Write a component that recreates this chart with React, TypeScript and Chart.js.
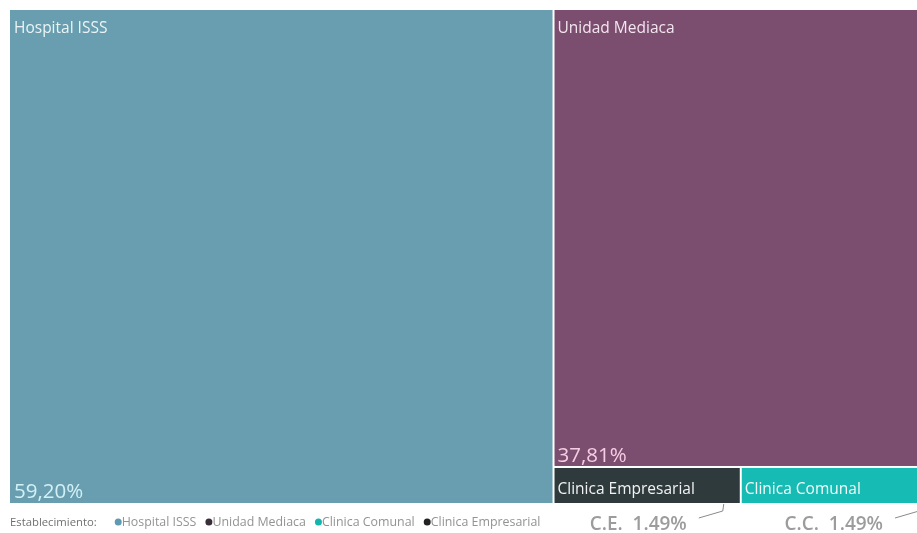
import React, { useEffect, useRef } from "react";
import { Chart, registerables } from "chart.js";
Chart.register(...registerables);

const categories = ["Hospital ISSS", "Unidad Mediaca", "Clinica Empresarial", "Clinica Comunal"];
const values = [59.2, 37.81, 1.49, 1.49];
const valueLabels = ["59,20%", "37,81%", "", ""];
const colors = ["#689EAF", "#7B4D6F", "#2E3A3C", "#16BCB3"];
const labelColors = ["#EAF4F6", "#F3E6EE", "#F2F2F2", "#F2FBFA"];
const valueColors = ["#D2F1F6", "#F5CDE4", "#FFFFFF", "#FFFFFF"];
const legendTitle = "Establecimiento:";
const legendNames = ["Hospital ISSS", "Unidad Mediaca", "Clinica Comunal", "Clinica Empresarial"];
const legendDots = ["#5F9AB0", "#3A2F38", "#14B5AE", "#222222"];
const calloutTexts = ["C.E.  1.49%", "C.C.  1.49%"];
const calloutFor = [2, 3];
const calloutShift = [0, 9];
// visible part of the treemap (the right edge is cut off by the frame in the original)
const visibleMax = 98.8;

// treemap layout computed from values (value space 0..100 on both axes)
function layout(vals: number[]) {
  const total = vals.reduce((a, b) => a + b, 0);
  const rects: { x0: number; x1: number; y0: number; y1: number }[] = [];
  const xSplit = (vals[0] / total) * 100;
  rects.push({ x0: 0, x1: xSplit, y0: 0, y1: 100 });
  const rest = total - vals[0];
  const ySplit = (vals[1] / rest) * 100;
  rects.push({ x0: xSplit, x1: 100, y0: 0, y1: ySplit });
  const tail = vals.slice(2);
  const tailTotal = tail.reduce((a, b) => a + b, 0);
  let cx = xSplit;
  tail.forEach((v) => {
    const w = (v / tailTotal) * (100 - xSplit);
    rects.push({ x0: cx, x1: cx + w, y0: ySplit, y1: 100 });
    cx += w;
  });
  return rects;
}

const FONT = "'Open Sans', 'Noto Sans', sans-serif";

const treemapPlugin = {
  id: "treemapDraw",
  afterDatasetsDraw(chart: any) {
    const { ctx, scales } = chart;
    const xs = scales.x;
    const ys = scales.y;
    const px: { l: number; r: number; t: number; b: number }[] = [];
    chart.data.datasets.forEach((ds: any) => {
      const [p0, p1] = ds.data;
      const l = xs.getPixelForValue(p0.x);
      const r = xs.getPixelForValue(p1.x);
      const t = ys.getPixelForValue(p0.y);
      const b = ys.getPixelForValue(p1.y);
      px.push({ l, r, t, b });
      ctx.save();
      ctx.fillStyle = ds.backgroundColor;
      const il = p0.x > 0 ? 1 : 0;
      const it = p0.y > 0 ? 1 : 0;
      ctx.fillRect(l + il, t + it, r - l - il - (p1.x < 100 ? 1 : 0), b - t - it - (p1.y < 100 ? 1 : 0));
      ctx.restore();
    });
    // labels
    chart.data.datasets.forEach((ds: any, i: number) => {
      const { l, t, b } = px[i];
      ctx.save();
      ctx.textBaseline = "alphabetic";
      ctx.textAlign = "left";
      if (b - t > 60) {
        ctx.font = `15.5px ${FONT}`;
        ctx.fillStyle = labelColors[i];
        ctx.fillText(ds.label, l + 4, t + 23);
        if (valueLabels[i]) {
          ctx.font = `20.5px ${FONT}`;
          ctx.fillStyle = valueColors[i];
          ctx.fillText(valueLabels[i], l + 4, b - 5);
        }
      } else {
        ctx.font = `15.5px ${FONT}`;
        ctx.fillStyle = labelColors[i];
        ctx.fillText(ds.label, l + 4, b - 9);
      }
      ctx.restore();
    });
    // callouts
    calloutFor.forEach((idx, k) => {
      const { r, b } = px[idx];
      const cornerX = r - 18 + calloutShift[k];
      ctx.save();
      ctx.strokeStyle = "#8a8a8a";
      ctx.lineWidth = 1;
      ctx.beginPath();
      ctx.moveTo(cornerX - 24, b + 15);
      ctx.lineTo(cornerX, b + 8);
      ctx.lineTo(cornerX + 1, b + 1);
      ctx.stroke();
      ctx.font = `600 19px ${FONT}`;
      ctx.fillStyle = "#9C9C9C";
      ctx.textAlign = "right";
      ctx.textBaseline = "alphabetic";
      ctx.fillText(calloutTexts[k], cornerX - 36, b + 27);
      ctx.restore();
    });
    // legend
    ctx.save();
    const ly = chart.chartArea.bottom + 23;
    let x = chart.chartArea.left;
    ctx.textBaseline = "alphabetic";
    ctx.textAlign = "left";
    ctx.font = `11.3px ${FONT}`;
    ctx.fillStyle = "#707070";
    ctx.fillText(legendTitle, x, ly);
    x += ctx.measureText(legendTitle).width + 18;
    ctx.font = `12.4px ${FONT}`;
    legendNames.forEach((name, i) => {
      ctx.fillStyle = legendDots[i];
      ctx.beginPath();
      ctx.arc(x + 3.5, ly - 4, 3.5, 0, Math.PI * 2);
      ctx.fill();
      ctx.fillStyle = "#939393";
      ctx.fillText(name, x + 7, ly);
      x += 7 + ctx.measureText(name).width + 9;
    });
    ctx.restore();
  },
};

export default function App() {
  const ref = useRef<HTMLCanvasElement>(null);
  useEffect(() => {
    document.documentElement.style.overflow = "hidden";
    const rects = layout(values);
    const chart = new Chart(ref.current!, {
      type: "scatter",
      data: {
        datasets: categories.map((c, i) => ({
          label: c,
          data: [
            { x: rects[i].x0, y: rects[i].y0 },
            { x: rects[i].x1, y: rects[i].y1 },
          ],
          backgroundColor: colors[i],
          pointRadius: 0,
          showLine: false,
        })),
      },
      options: {
        responsive: false,
        animation: false,
        layout: { padding: { left: 2, top: 2, right: 0, bottom: 30 } },
        plugins: { legend: { display: false }, tooltip: { enabled: false } },
        scales: {
          x: { type: "linear", min: 0, max: visibleMax, display: false },
          y: { type: "linear", min: 0, max: 100, reverse: true, display: false },
        },
      },
      plugins: [treemapPlugin],
    });
    return () => chart.destroy();
  }, []);
  return (
    <div style={{ width: 917, height: 533, overflow: "hidden", boxSizing: "border-box", padding: "8px 0 0 8px" }}>
      <style>{"body{margin:0}"}</style>
      <canvas ref={ref} width={909} height={525} style={{ display: "block" }} />
    </div>
  );
}
